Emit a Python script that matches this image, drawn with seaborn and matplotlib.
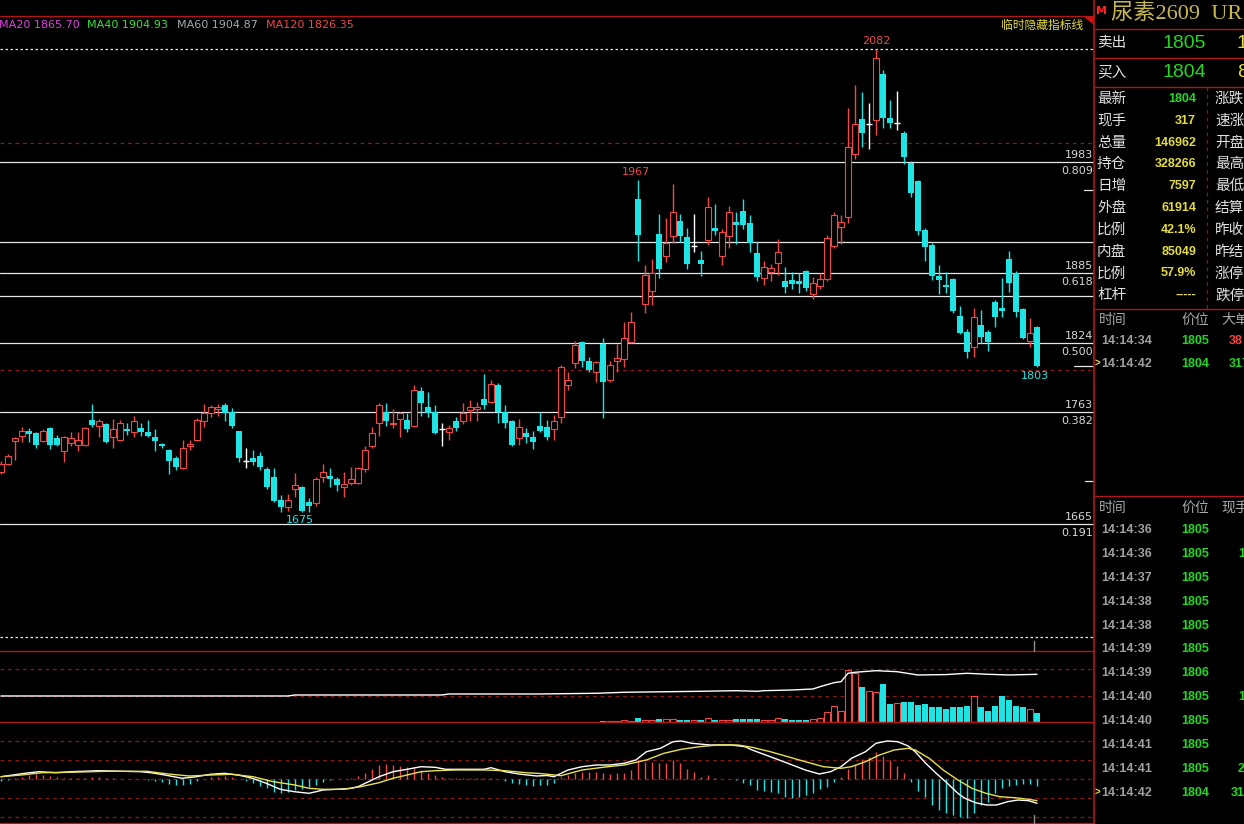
import numpy as np
import pandas as pd
import matplotlib
matplotlib.use("Agg")
import matplotlib.pyplot as plt
import seaborn as sns

sns.set_theme(style="dark")
plt.rcParams["font.family"] = ["DejaVu Sans", "Noto Sans CJK SC"]
plt.rcParams["axes.unicode_minus"] = False

# ---------------- data ----------------
opens = [
    1711, 1718, 1738, 1742, 1747, 1745, 1738, 1749, 1740, 1729,
    1736, 1734, 1734, 1756, 1751, 1753, 1741, 1739, 1748, 1746,
    1749, 1746, 1741, 1735, 1730, 1723, 1714, 1733, 1739, 1755,
    1762, 1766, 1769, 1763, 1747, 1720, 1723, 1725, 1713, 1706,
    1686, 1680, 1696, 1697, 1684, 1683, 1706, 1707, 1704, 1697,
    1701, 1701, 1713, 1733, 1754, 1763, 1753, 1757, 1756, 1751,
    1782, 1768, 1763, 1748, 1746, 1755, 1755, 1765, 1766, 1775,
    1772, 1787, 1763, 1755, 1740, 1745, 1741, 1751, 1750, 1748,
    1759, 1787, 1806, 1825, 1808, 1798, 1823, 1791, 1808, 1810,
    1825, 1950, 1858, 1870, 1920, 1900, 1918, 1931, 1917, 1909,
    1897, 1914, 1925, 1900, 1918, 1930, 1940, 1929, 1903, 1881,
    1886, 1894, 1878, 1879, 1878, 1887, 1867, 1874, 1880, 1909,
    1926, 1935, 1990, 2021, 2016, 2020, 2060, 2022, 2017, 2008,
    1982, 1966, 1923, 1910, 1883, 1875, 1880, 1848, 1834, 1820,
    1840, 1834, 1860, 1855, 1898, 1885, 1854, 1826, 1838,
]
highs = [
    1720, 1726, 1741, 1750, 1749, 1746, 1748, 1750, 1743, 1742,
    1746, 1746, 1750, 1770, 1757, 1754, 1757, 1756, 1754, 1760,
    1754, 1756, 1748, 1736, 1731, 1725, 1739, 1739, 1758, 1770,
    1769, 1770, 1771, 1767, 1747, 1732, 1730, 1728, 1715, 1714,
    1690, 1691, 1710, 1698, 1688, 1706, 1718, 1714, 1706, 1711,
    1715, 1715, 1733, 1750, 1771, 1771, 1766, 1763, 1762, 1787,
    1785, 1781, 1769, 1754, 1752, 1759, 1771, 1774, 1772, 1797,
    1791, 1789, 1769, 1756, 1757, 1749, 1747, 1763, 1756, 1761,
    1805, 1798, 1826, 1826, 1812, 1808, 1828, 1808, 1823, 1842,
    1851, 1967, 1892, 1898, 1937, 1934, 1964, 1937, 1925, 1937,
    1905, 1952, 1946, 1924, 1944, 1939, 1950, 1936, 1913, 1896,
    1893, 1915, 1891, 1886, 1885, 1888, 1882, 1885, 1919, 1939,
    1936, 2030, 2051, 2044, 2035, 2082, 2064, 2037, 2045, 2010,
    1984, 1967, 1925, 1912, 1892, 1886, 1881, 1856, 1836, 1855,
    1853, 1835, 1862, 1881, 1905, 1887, 1855, 1846, 1839,
]
lows = [
    1709, 1717, 1721, 1737, 1737, 1732, 1737, 1731, 1733, 1719,
    1733, 1729, 1733, 1750, 1741, 1736, 1732, 1738, 1743, 1741,
    1742, 1741, 1729, 1732, 1709, 1712, 1713, 1730, 1738, 1750,
    1759, 1760, 1755, 1749, 1719, 1714, 1717, 1712, 1696, 1684,
    1675, 1676, 1689, 1675, 1675, 1681, 1702, 1697, 1694, 1689,
    1699, 1700, 1711, 1732, 1742, 1751, 1749, 1741, 1746, 1750,
    1760, 1759, 1744, 1733, 1739, 1747, 1753, 1755, 1755, 1766,
    1771, 1754, 1749, 1733, 1734, 1736, 1731, 1746, 1739, 1739,
    1754, 1783, 1802, 1803, 1798, 1790, 1758, 1790, 1798, 1803,
    1824, 1896, 1850, 1857, 1881, 1895, 1912, 1913, 1889, 1904,
    1883, 1910, 1919, 1892, 1907, 1911, 1924, 1904, 1878, 1875,
    1878, 1884, 1868, 1871, 1868, 1870, 1863, 1871, 1878, 1907,
    1911, 1929, 1986, 1996, 1994, 2007, 2013, 2013, 2011, 1981,
    1952, 1919, 1896, 1879, 1867, 1868, 1850, 1832, 1811, 1812,
    1824, 1817, 1838, 1847, 1869, 1847, 1827, 1820, 1803,
]
closes = [
    1718, 1725, 1740, 1747, 1744, 1734, 1747, 1734, 1734, 1741,
    1740, 1739, 1749, 1752, 1755, 1737, 1748, 1754, 1747, 1755,
    1746, 1742, 1738, 1733, 1720, 1715, 1732, 1735, 1756, 1762,
    1768, 1768, 1762, 1751, 1723, 1720, 1719, 1715, 1697, 1685,
    1680, 1686, 1699, 1676, 1681, 1704, 1711, 1704, 1699, 1700,
    1704, 1714, 1730, 1745, 1769, 1755, 1754, 1762, 1748, 1783,
    1771, 1762, 1745, 1748, 1749, 1749, 1762, 1768, 1768, 1769,
    1788, 1763, 1754, 1734, 1750, 1741, 1737, 1747, 1741, 1755,
    1803, 1791, 1822, 1808, 1800, 1807, 1790, 1805, 1811, 1828,
    1842, 1919, 1884, 1885, 1889, 1912, 1939, 1918, 1893, 1909,
    1893, 1943, 1922, 1921, 1939, 1928, 1928, 1912, 1882, 1891,
    1890, 1904, 1873, 1876, 1876, 1872, 1877, 1880, 1916, 1936,
    1930, 1996, 2016, 2008, 2016, 2074, 2022, 2017, 2017, 1987,
    1956, 1922, 1908, 1883, 1879, 1873, 1852, 1833, 1816, 1847,
    1829, 1825, 1847, 1852, 1877, 1851, 1828, 1833, 1804,
]

# volume only exists for the last candles
vol_start = 86
volumes = [
    600, 600, 600, 1200, 900, 2400, 1200, 1200, 1800, 1800,
    1800, 1200, 1200, 1200, 1200, 2400, 1200, 1200, 1200, 1800,
    1800, 1800, 1800, 1200, 1200, 2400, 1800, 1200, 1200, 1200,
    1800, 2400, 5800, 9400, 6400, 31200, 29600, 21200, 18600, 18000,
    22800, 11000, 11400, 11800, 11800, 10400, 11000, 9000, 9000, 8000,
    8800, 8800, 9800, 15800, 8800, 6400, 9800, 15400, 13400, 9800,
    8800, 8000, 5400,
]

# open interest line (vertices)
oi_x = [0, 41, 42, 63, 64, 77, 85, 89, 100, 105, 108, 109, 113, 116, 117,
        119, 120, 121, 122, 125, 128, 131, 135, 138, 141, 144, 148]
oi_val = [284900, 284900, 286900, 286900, 288900, 288900, 290300, 292300,
          294300, 295500, 294300, 295500, 296900, 298900, 303500, 311500,
          313500, 330300, 332300, 335500, 333500, 326900, 327700, 330300,
          328300, 326900, 328266]

# MACD
dif_x = [0, 3.4, 5.4, 7.9, 9.9, 14, 19.9, 21.4, 23.4, 25.9, 27.9, 29.9, 31.9,
         33.9, 35.9, 37.9, 39.9, 41.9, 44, 45, 46, 48, 50, 51, 52.5, 54, 56,
         58, 60, 62, 63.5, 66.5, 69, 70, 72, 74, 76.5, 78, 79, 81, 83, 85, 87,
         89, 90.7, 92.2, 94.2, 96, 97.2, 98.7, 101.3, 104.3, 106.3, 107.3,
         109.9, 112.4, 114.9, 116.9, 118.5, 120, 121.5, 123.5, 125, 126.6,
         128.1, 129.6, 130.6, 132.1, 133.6, 135.2, 136.7, 137.7, 139.2, 140.8,
         142.2, 143.8, 145.3, 146.8, 148]
dif_y = [2.3, 5.7, 7.3, 6.3, 7.3, 8.3, 7.3, 6.3, 4.0, 0.7, 2.3, 4.7, 5.7,
         4.0, 0.7, -4.3, -10.3, -12.7, -14.3, -12.7, -11.0, -10.3, -9.3, -7.7,
         -2.7, 2.3, 7.3, 9.7, 12.3, 11.7, 9.7, 9.7, 9.7, 11.3, 7.3, 5.0, 3.0,
         3.5, 2.3, 9.0, 12.3, 14.0, 14.0, 15.7, 19.0, 27.3, 30.7, 37.3, 38.0,
         35.7, 34.0, 34.0, 32.3, 29.0, 22.3, 15.7, 9.0, 5.0, 7.3, 12.3, 20.7,
         27.3, 35.7, 38.0, 37.3, 33.0, 27.3, 15.7, 5.7, -4.3, -14.3, -19.3,
         -23.7, -26.0, -26.0, -22.7, -21.0, -21.7, -24.3]
dea_x = [0, 2.9, 5.9, 9.9, 14.9, 20.9, 23.9, 26.9, 30, 32.9, 36, 38.9, 42, 44,
         46, 49, 51.4, 54, 56, 58, 60, 62, 65, 69, 72, 75, 77, 80, 83, 86, 89,
         92.2, 94.7, 97.2, 99.8, 102.3, 105.3, 107.3, 109.9, 112.4, 114.9,
         117.5, 120, 121.5, 123.5, 125.5, 127.6, 129.6, 130.6, 132.6, 134.6,
         136.7, 138.7, 140.7, 142.7, 144.8, 146.8, 148]
dea_y = [2.3, 4.0, 6.3, 6.7, 7.7, 7.7, 5.0, 3.0, 4.0, 4.7, 2.3, -2.7, -6.0,
         -9.3, -10.3, -10.3, -7.7, -3.7, 0.7, 4.0, 7.3, 8.3, 9.0, 9.0, 8.3,
         6.3, 5.5, 3.3, 9.0, 11.7, 14.0, 19.0, 25.7, 29.7, 32.3, 34.0, 34.0,
         31.7, 27.3, 22.3, 17.3, 12.3, 10.7, 12.3, 17.3, 24.0, 29.0, 30.7,
         29.0, 20.7, 9.0, -1.0, -9.3, -14.3, -17.7, -18.7, -20.3, -21.7]
macd_hist = [
    -2, -1, 1, 2.3, 4, 4.7, 4, 3, 2.3, 1.3,
    1, 0.7, 1, 2.3, 2.3, 1, 0.7, 0.5, 0.5, 0.3,
    0.3, -1, -1.5, -2.7, -5, -6, -6, -5, -2, 0.5,
    2, 2.3, 3.3, 2.3, 0.5, -1.7, -3.7, -7, -9.3, -12.7,
    -14.3, -12.7, -11, -10.3, -7.7, -6, -2.7, -1, 0.3, 0.5,
    1, 3.3, 5.7, 9.7, 14, 14.7, 14, 13, 12.3, 10.7,
    9, 5.7, 4, 2.3, 1, 0.7, 0.7, 0.7, 0.7, 0.7,
    1, 0.3, -1.7, -4.3, -5, -6, -6.7, -6.3, -6, -4,
    2.3, 4, 5.7, 7.3, 7.3, 7.3, 5.7, 5, 5.7, 6.3,
    9, 18.3, 17.3, 17.3, 15.7, 16.3, 19, 15.7, 9.7, 7.3,
    2.3, 3.7, 0.7, 0.3, -0.3, -1, -4.3, -6, -11, -11.7,
    -12.7, -14.3, -17.7, -18.7, -17.7, -16, -14.3, -10.3, -7.7, -2.7,
    2.3, 9.7, 14.7, 19.7, 22.3, 26.7, 23, 19, 13, 6.3,
    -2.7, -11.7, -17.7, -26, -31, -33.7, -36, -37.7, -39.3, -33.7,
    -26, -22.7, -14.3, -9.3, -7, -6, -5, -5, -7,
]

# horizontal levels
fib_prices = [1983, 1885, 1824, 1763, 1665]
fib_ratios = ["0.809", "0.618", "0.500", "0.382", "0.191"]
extra_lines = [1913, 1865]
dash_white = [2082, 1565.5]
dash_red = [2000, 1800]

ma_labels = ["MA20 1865.70", "MA40 1904.93", "MA60 1904.87", "MA120 1826.35"]
ma_colors = ["#e040e0", "#3ce03c", "#a8a8a8", "#f04848"]

quote_labels = ["最新", "现手", "总量", "持仓", "日增", "外盘", "比例", "内盘", "比例", "杠杆"]
quote_values = ["1804", "317", "146962", "328266", "7597", "61914", "42.1%", "85049", "57.9%", "-----"]
right_labels = ["涨跌", "速涨", "开盘", "最高", "最低", "结算", "昨收", "昨结", "涨停", "跌停"]

big_times = ["14:14:34", "14:14:42"]
big_prices = ["1805", "1804"]
big_sizes = ["38", "317"]
tick_times = ["14:14:36", "14:14:36", "14:14:37", "14:14:38", "14:14:38", "14:14:39",
              "14:14:39", "14:14:40", "14:14:40", "14:14:41", "14:14:41", "14:14:42"]
tick_prices = ["1805", "1805", "1805", "1805", "1805", "1805",
               "1806", "1805", "1805", "1805", "1805", "1804"]
tick_sizes = ["3", "12", "1", "1", "5", "4", "2", "16", "3", "4", "24", "317"]

# ---------------- styling ----------------
BG = "black"
RED = "#f04848"
CYAN = "#1ee4e4"
GRID_RED = "#8a1818"
BORDER_RED = "#b01818"
LINE_W = "#e6e6e6"
YELLOW = "#e4dc3c"
GREEN = "#22d822"
PANEL_FONT = ["Liberation Sans", "Noto Sans CJK SC"]

W, H = 1244, 824
fig = plt.figure(figsize=(W / 100, H / 100), dpi=100, facecolor=BG)


def px_axes(x0, y0, x1, y1):
    return fig.add_axes([x0 / W, 1 - y1 / H, (x1 - x0) / W, (y1 - y0) / H])


ax = px_axes(0, 16, 1094, 651)
ax_v = px_axes(0, 651, 1094, 722)
ax_m = px_axes(0, 722, 1094, 823)
xlim = (-1 / 7, 1093 / 7)

df = pd.DataFrame({"open": opens, "high": highs, "low": lows, "close": closes})
df["idx"] = np.arange(len(df))
up = df[df.close > df.open]
down = df[df.close < df.open]
flat = df[df.close == df.open]

# ---- main price panel ----
for p in fib_prices + extra_lines:
    ax.axhline(p, color=LINE_W, lw=0.9, zorder=1)
for p in dash_white:
    ax.axhline(p, color=LINE_W, lw=0.9, ls=(0, (2, 2)), zorder=1)
for p in dash_red:
    ax.axhline(p, color=GRID_RED, lw=0.9, ls=(0, (3, 3)), zorder=1)

bw = 0.72
ax.vlines(up.idx, up.low, up.high, color=RED, lw=1, zorder=2)
ax.bar(up.idx, up.close - up.open, bottom=up.open, width=bw,
       facecolor=BG, edgecolor=RED, lw=0.8, zorder=3)
ax.vlines(down.idx, down.low, down.high, color=CYAN, lw=1, zorder=2)
ax.bar(down.idx, down.open - down.close, bottom=down.close, width=bw,
       color=CYAN, lw=0, zorder=3)
ax.vlines(flat.idx, flat.low, flat.high, color="white", lw=1, zorder=2)
ax.hlines(flat.close, flat.idx - bw / 2, flat.idx + bw / 2, color="white", lw=1, zorder=3)

for p, r in zip(fib_prices, fib_ratios):
    ax.annotate(str(p), (1, p), xycoords=("axes fraction", "data"), xytext=(-1, 7),
                textcoords="offset pixels", ha="right", va="center", color="#d8d8d8", fontsize=8)
    ax.annotate(r, (1, p), xycoords=("axes fraction", "data"), xytext=(-1, -9),
                textcoords="offset pixels", ha="right", va="center", color="#d8d8d8", fontsize=8)

hi_i = int(np.argmax(highs))
ax.annotate(str(highs[hi_i]), (hi_i, highs[hi_i]), xytext=(0, 8), textcoords="offset pixels",
            ha="center", va="center", color=RED, fontsize=8)
ax.annotate(str(highs[91]), (91, highs[91]), xytext=(-2, 8), textcoords="offset pixels",
            ha="center", va="center", color=RED, fontsize=8)
ax.annotate(str(lows[43]), (43, lows[43]), xytext=(-2, -8), textcoords="offset pixels",
            ha="center", va="center", color=CYAN, fontsize=8)
ax.annotate(str(lows[-1]), (len(lows) - 1, lows[-1]), xytext=(-2, -9), textcoords="offset pixels",
            ha="center", va="center", color=CYAN, fontsize=8)

# short marks on the right edge
ax.axhline(1958, xmin=1084 / 1094, xmax=1, color=LINE_W, lw=0.9)
ax.axhline(closes[-1], xmin=1074 / 1094, xmax=1, color=LINE_W, lw=0.9)
ax.axhline(1703, xmin=1085 / 1094, xmax=1, color=LINE_W, lw=0.9)

ax.set_xlim(*xlim)
ax.set_ylim(1553.3, 2111.2)

# ---- volume panel ----
vi = np.arange(vol_start, vol_start + len(volumes))
vol = pd.DataFrame({"idx": vi, "vol": volumes,
                    "up": np.array(closes)[vi] >= np.array(opens)[vi]})
for g in (31800, 15600):
    ax_v.axhline(g, color=GRID_RED, lw=0.9, ls=(0, (3, 3)), zorder=1)
vu, vd = vol[vol.up], vol[~vol.up]
ax_v.bar(vu.idx, vu.vol, width=bw, facecolor=BG, edgecolor=RED, lw=0.8, zorder=2)
ax_v.bar(vd.idx, vd.vol, width=bw, color=CYAN, lw=0, zorder=2)
ax_v.set_xlim(*xlim)
ax_v.set_ylim(0, 42600)
ax_oi = ax_v.twinx()
sns.lineplot(x=oi_x, y=oi_val, ax=ax_oi, color="white", lw=1, estimator=None)
ax_oi.set_ylim(232866, 374866)
ax_oi.set_xlim(*xlim)

# ---- MACD panel ----
for g in (38, 19, 0, -19, -38):
    ax_m.axhline(g, color=GRID_RED, lw=0.9, ls=(0, (3, 3)), zorder=1)
hist = np.array(macd_hist)
hidx = np.arange(len(hist))
ax_m.vlines(hidx[hist > 0], 0, hist[hist > 0], color=RED, lw=1, zorder=2)
ax_m.vlines(hidx[hist < 0], 0, hist[hist < 0], color=CYAN, lw=1, zorder=2)
sns.lineplot(x=dif_x, y=dif_y, ax=ax_m, color="white", lw=1, estimator=None, zorder=3)
sns.lineplot(x=dea_x, y=dea_y, ax=ax_m, color="#e8e050", lw=1, estimator=None, zorder=3)
ax_m.set_xlim(*xlim)
ax_m.set_ylim(-44, 57)

for a in (ax, ax_v, ax_oi, ax_m):
    a.set_axis_off()

# ---- overlay in pixel coordinates: borders, header, quote panel ----
ov = fig.add_axes([0, 0, 1, 1])
ov.set_xlim(0, W)
ov.set_ylim(H, 0)
ov.set_axis_off()

ov.plot([0, 1094], [16, 16], color=BORDER_RED, lw=1)
for y in (651, 722, 823):
    ov.plot([0, 1094], [y, y], color=BORDER_RED, lw=1)
ov.plot([1094, 1094], [0, H], color=BORDER_RED, lw=1.2)
ov.fill([1083, 1094, 1094], [16, 16, 25], color="#d01010", lw=0)
ov.plot([1034, 1034], [641, 651], color="#909090", lw=1)
ov.plot([1034, 1034], [815, 824], color="#909090", lw=1)

for s, c, x in zip(ma_labels, ma_colors, [-1, 87, 177, 266]):
    ov.text(x, 25, s, color=c, fontsize=8, ha="left", va="center")
ov.text(1083, 25, "临时隐藏指标线", color=YELLOW, fontsize=8.5, ha="right", va="center",
        family=["Noto Sans CJK SC", "DejaVu Sans"])

# right quote panel
for y in (29, 58, 87, 309, 496):
    ov.plot([1095, W], [y, y], color=BORDER_RED, lw=1)
ov.plot([1207, 1207], [87, 309], color=GRID_RED, lw=0.9, ls=(0, (3, 3)))
ov.text(1096, 11, "M", color="#ff2020", fontsize=8, weight="bold", ha="left", va="center")
ov.text(1111, 14, "尿素2609  UR", color="#c8b850", fontsize=16, ha="left", va="center",
        family=["Liberation Serif", "Noto Sans CJK SC"])

for y, lab, val, extra in [(43, "卖出", "1805", "1"), (72, "买入", "1804", "8")]:
    ov.text(1097, y, lab, color="#e0e0e0", fontsize=10.5, ha="left", va="center", family=PANEL_FONT)
    ov.text(1184, y, val, color=GREEN, fontsize=14, ha="center", va="center", family=PANEL_FONT)
    ov.text(1237, y, extra, color=YELLOW, fontsize=14, ha="left", va="center", family=PANEL_FONT)

for k, (lab, val, rlab) in enumerate(zip(quote_labels, quote_values, right_labels)):
    y = 99 + k * 21.8
    ov.text(1097, y, lab, color="#e0e0e0", fontsize=10.5, ha="left", va="center", family=PANEL_FONT)
    ov.text(1196, y, val, color=GREEN if k == 0 else YELLOW, fontsize=9, weight="bold",
            ha="right", va="center", family=PANEL_FONT)
    ov.text(1215, y, rlab, color="#e0e0e0", fontsize=10.5, ha="left", va="center", family=PANEL_FONT)

# big-order list
ov.text(1099, 320, "时间", color="#a8a8a8", fontsize=10, ha="left", va="center", family=PANEL_FONT)
ov.text(1181, 320, "价位", color="#a8a8a8", fontsize=10, ha="left", va="center", family=PANEL_FONT)
ov.text(1221, 320, "大单", color="#a8a8a8", fontsize=10, ha="left", va="center", family=PANEL_FONT)
for k, (t, p, s) in enumerate(zip(big_times, big_prices, big_sizes)):
    y = 341 + k * 23
    ov.text(1101, y, t, color="#a0a0a0", fontsize=9, weight="bold", ha="left", va="center", family=PANEL_FONT)
    ov.text(1209, y, p, color=GREEN, fontsize=9, weight="bold", ha="right", va="center", family=PANEL_FONT)
    ov.text(1229, y, s, color=RED if k == 0 else GREEN, fontsize=9, weight="bold",
            ha="left", va="center", family=PANEL_FONT)
ov.text(1095, 364, ">", color=YELLOW, fontsize=7, weight="bold", ha="left", va="center", family=PANEL_FONT)

# tick list
ov.text(1099, 508, "时间", color="#a8a8a8", fontsize=10, ha="left", va="center", family=PANEL_FONT)
ov.text(1181, 508, "价位", color="#a8a8a8", fontsize=10, ha="left", va="center", family=PANEL_FONT)
ov.text(1221, 508, "现手", color="#a8a8a8", fontsize=10, ha="left", va="center", family=PANEL_FONT)
for k, (t, p, s) in enumerate(zip(tick_times, tick_prices, tick_sizes)):
    y = 530 + k * 23.9
    ov.text(1101, y, t, color="#a0a0a0", fontsize=9, weight="bold", ha="left", va="center", family=PANEL_FONT)
    ov.text(1209, y, p, color=GREEN, fontsize=9, weight="bold", ha="right", va="center", family=PANEL_FONT)
    ov.text(1252, y, s, color=GREEN, fontsize=9, weight="bold", ha="right", va="center", family=PANEL_FONT)
ov.text(1095, 793, ">", color=YELLOW, fontsize=7, weight="bold", ha="left", va="center", family=PANEL_FONT)

fig.savefig("out.png", dpi=100, facecolor=BG)
